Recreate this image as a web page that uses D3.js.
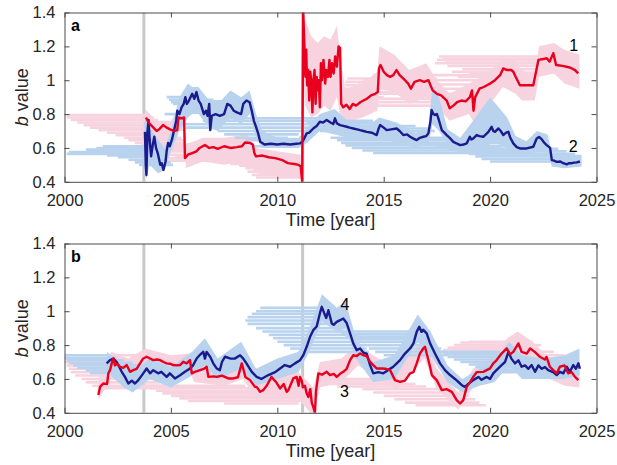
<!DOCTYPE html>
<html>
<head>
<meta charset="utf-8">
<script src="https://cdn.jsdelivr.net/npm/d3@7"></script>
<style>
body { margin: 0; background: #fff; }
text { font-family: "Liberation Sans", Arial, Helvetica, sans-serif; }
</style>
</head>
<body>
<div id="chart"></div>
<script>
// ---- data ----
const xTicks = [2000, 2005, 2010, 2015, 2020, 2025];
const yTicks = [0.4, 0.6, 0.8, 1, 1.2, 1.4];
const quakes = [2003.73, 2011.19];

// series 1 (panel a, red): [year, b]
const series1 = [[2003.83,0.78],[2003.95,0.75],[2004.1,0.73],[2004.33,0.70],[2004.45,0.71],[2004.63,0.735],[2004.8,0.72],[2004.96,0.71],[2005.15,0.70],[2005.3,0.705],[2005.35,0.78],[2005.5,0.775],[2005.62,0.78],[2005.66,0.54],[2005.8,0.56],[2006.0,0.57],[2006.2,0.58],[2006.35,0.60],[2006.6,0.617],[2006.8,0.60],[2007.0,0.605],[2007.2,0.595],[2007.5,0.61],[2007.8,0.60],[2008.1,0.605],[2008.34,0.61],[2008.48,0.632],[2008.7,0.63],[2008.85,0.62],[2008.92,0.57],[2009.0,0.55],[2009.3,0.555],[2009.6,0.545],[2009.9,0.54],[2010.2,0.53],[2010.5,0.51],[2010.8,0.505],[2011.0,0.50],[2011.1,0.49],[2011.17,0.40],[2011.22,1.40],[2011.27,1.22],[2011.32,1.02],[2011.36,1.18],[2011.4,0.97],[2011.45,1.06],[2011.5,0.88],[2011.55,1.05],[2011.6,0.99],[2011.65,0.81],[2011.7,1.0],[2011.75,1.06],[2011.8,0.86],[2011.85,1.02],[2011.9,0.94],[2011.95,1.0],[2012.0,0.84],[2012.05,1.1],[2012.1,1.0],[2012.17,1.12],[2012.25,0.98],[2012.3,1.06],[2012.38,1.02],[2012.45,1.12],[2012.5,1.02],[2012.57,1.1],[2012.65,1.04],[2012.72,1.14],[2012.8,1.08],[2012.88,1.2],[2012.95,1.19],[2013.0,0.86],[2013.1,0.84],[2013.25,0.855],[2013.4,0.83],[2013.55,0.86],[2013.7,0.85],[2013.9,0.87],[2014.05,0.88],[2014.2,0.89],[2014.4,0.91],[2014.6,0.92],[2014.72,0.93],[2014.78,1.07],[2014.85,1.09],[2015.0,1.05],[2015.15,1.03],[2015.3,1.02],[2015.45,1.03],[2015.6,1.06],[2015.75,1.03],[2016.0,1.0],[2016.15,0.98],[2016.28,0.95],[2016.45,0.99],[2016.7,1.0],[2016.9,0.99],[2017.1,1.0],[2017.3,0.94],[2017.5,0.92],[2017.7,0.91],[2017.96,0.88],[2018.1,0.834],[2018.27,0.85],[2018.45,0.87],[2018.65,0.88],[2018.85,0.875],[2019.05,0.90],[2019.15,0.94],[2019.22,0.82],[2019.3,0.90],[2019.5,0.95],[2019.7,0.96],[2019.85,0.97],[2020.0,0.98],[2020.23,1.0],[2020.47,1.03],[2020.62,1.07],[2020.8,1.06],[2021.0,1.06],[2021.09,1.05],[2021.2,1.02],[2021.4,0.97],[2022.03,0.97],[2022.27,1.12],[2022.5,1.125],[2022.66,1.13],[2022.8,1.11],[2022.97,1.16],[2023.1,1.09],[2023.4,1.085],[2023.75,1.075],[2023.99,1.06],[2024.14,1.04]];
// uncertainty envelope: [year, low, high]
const band1 = [[2003.8,0.68,0.83],[2004.3,0.66,0.76],[2005.0,0.66,0.76],[2005.3,0.70,0.82],[2005.65,0.70,0.82],[2005.7,0.48,0.62],[2006.5,0.52,0.66],[2007.5,0.50,0.66],[2008.6,0.52,0.68],[2009.0,0.45,0.60],[2010.0,0.43,0.58],[2011.1,0.42,0.56],[2011.2,0.40,0.55],[2011.25,1.0,1.4],[2011.3,0.85,1.36],[2011.6,0.78,1.26],[2011.9,0.80,1.22],[2012.2,0.85,1.26],[2012.5,0.82,1.24],[2012.8,0.90,1.32],[2013.0,0.76,1.1],[2013.2,0.75,0.95],[2014.0,0.78,0.98],[2014.7,0.82,1.05],[2014.8,0.95,1.2],[2015.5,0.93,1.15],[2016.2,0.86,1.06],[2017.0,0.90,1.1],[2017.5,0.84,1.0],[2018.1,0.76,0.92],[2019.0,0.80,0.98],[2019.3,0.74,1.0],[2020.0,0.86,1.06],[2020.6,0.96,1.12],[2021.2,0.92,1.12],[2021.5,0.88,1.05],[2022.1,0.88,1.04],[2022.3,1.02,1.2],[2023.0,1.04,1.22],[2023.5,0.98,1.18],[2024.2,0.95,1.15]];
// time windows: [from, to, b]
const bars1 = [[2000.1,2004.0,0.795],[2000.1,2004.2,0.78],[2000.3,2004.4,0.765],[2000.6,2004.6,0.75],[2000.9,2004.8,0.735],[2001.2,2004.9,0.72],[2001.6,2005.0,0.705],[2002.0,2005.1,0.69],[2002.4,2005.3,0.675],[2002.8,2005.5,0.66],[2003.0,2005.6,0.645],[2003.3,2005.6,0.63],[2003.6,2005.6,0.615],[2003.8,2006.0,0.56],[2003.9,2006.5,0.58],[2004.1,2007.0,0.595],[2004.3,2007.5,0.61],[2004.5,2008.0,0.6],[2004.8,2008.6,0.62],[2005.2,2008.9,0.545],[2004.0,2006.3,0.54],[2004.4,2006.8,0.525],[2006.3,2009.2,0.55],[2006.6,2009.5,0.54],[2007.0,2009.9,0.53],[2007.4,2010.2,0.515],[2007.8,2010.5,0.505],[2008.2,2010.8,0.495],[2008.5,2011.0,0.48],[2008.6,2011.1,0.46],[2008.8,2011.15,0.44],[2009.0,2011.18,0.425],[2013.0,2014.5,0.87],[2013.0,2015.0,0.9],[2013.1,2015.5,0.93],[2013.1,2016.0,0.95],[2013.2,2016.6,0.97],[2013.2,2017.0,0.99],[2013.3,2017.5,1.01],[2013.2,2018.0,0.85],[2013.3,2018.5,0.87],[2013.4,2019.0,0.89],[2013.5,2019.5,0.92],[2013.6,2020.0,0.95],[2013.8,2020.5,0.975],[2014.0,2020.8,1.0],[2014.5,2021.0,1.03],[2017.4,2022.4,1.1],[2017.5,2022.8,1.12],[2017.6,2023.2,1.14],[2017.8,2023.6,1.125],[2017.9,2024.0,1.105],[2018.0,2024.2,1.085],[2018.2,2021.6,1.05],[2018.5,2022.2,1.02],[2018.7,2024.2,1.065],[2019.0,2024.2,1.045]];

// series 2 (panel a, blue)
const series2 = [[2003.78,0.695],[2003.82,0.50],[2003.85,0.44],[2003.9,0.70],[2003.95,0.765],[2004.0,0.65],[2004.07,0.55],[2004.15,0.62],[2004.22,0.666],[2004.3,0.60],[2004.38,0.57],[2004.5,0.50],[2004.57,0.51],[2004.65,0.47],[2004.75,0.52],[2004.8,0.58],[2004.87,0.63],[2004.95,0.61],[2005.05,0.65],[2005.15,0.705],[2005.25,0.76],[2005.3,0.82],[2005.4,0.80],[2005.5,0.84],[2005.6,0.86],[2005.68,0.90],[2005.75,0.86],[2005.85,0.88],[2006.0,0.92],[2006.1,0.89],[2006.2,0.93],[2006.3,0.88],[2006.4,0.86],[2006.55,0.80],[2006.65,0.82],[2006.72,0.79],[2006.8,0.86],[2006.85,0.705],[2006.92,0.79],[2007.1,0.80],[2007.3,0.79],[2007.5,0.80],[2007.65,0.86],[2007.8,0.85],[2007.95,0.82],[2008.1,0.81],[2008.3,0.80],[2008.4,0.86],[2008.55,0.88],[2008.7,0.87],[2008.8,0.82],[2008.9,0.76],[2009.0,0.725],[2009.1,0.686],[2009.2,0.636],[2009.4,0.62],[2009.7,0.625],[2010.0,0.62],[2010.3,0.625],[2010.6,0.62],[2010.9,0.625],[2011.07,0.627],[2011.2,0.64],[2011.38,0.686],[2011.5,0.69],[2011.69,0.715],[2011.85,0.73],[2012.0,0.755],[2012.15,0.75],[2012.32,0.765],[2012.5,0.75],[2012.63,0.741],[2012.71,0.775],[2012.8,0.745],[2012.95,0.735],[2013.1,0.73],[2013.26,0.725],[2013.4,0.72],[2013.57,0.715],[2013.75,0.71],[2013.89,0.705],[2014.05,0.70],[2014.2,0.695],[2014.45,0.69],[2014.67,0.676],[2014.75,0.71],[2014.83,0.735],[2015.0,0.72],[2015.14,0.705],[2015.35,0.71],[2015.61,0.715],[2015.75,0.70],[2015.92,0.676],[2016.1,0.68],[2016.24,0.666],[2016.4,0.655],[2016.55,0.646],[2016.7,0.66],[2016.86,0.666],[2017.0,0.67],[2017.1,0.686],[2017.2,0.76],[2017.25,0.824],[2017.33,0.80],[2017.41,0.795],[2017.5,0.80],[2017.57,0.775],[2017.65,0.74],[2017.73,0.705],[2017.85,0.69],[2017.96,0.676],[2018.1,0.66],[2018.27,0.636],[2018.45,0.625],[2018.59,0.617],[2018.75,0.62],[2018.9,0.627],[2019.05,0.666],[2019.12,0.65],[2019.2,0.655],[2019.37,0.676],[2019.5,0.67],[2019.68,0.666],[2019.8,0.68],[2019.92,0.695],[2020.07,0.725],[2020.15,0.70],[2020.23,0.695],[2020.39,0.715],[2020.5,0.70],[2020.62,0.676],[2020.75,0.69],[2020.86,0.695],[2020.95,0.66],[2021.09,0.627],[2021.25,0.605],[2021.4,0.597],[2021.72,0.597],[2022.03,0.607],[2022.19,0.656],[2022.3,0.665],[2022.43,0.65],[2022.55,0.63],[2022.66,0.617],[2022.82,0.60],[2022.9,0.528],[2023.0,0.525],[2023.13,0.518],[2023.3,0.52],[2023.44,0.51],[2023.6,0.503],[2023.7,0.51],[2023.83,0.51],[2023.95,0.513],[2024.07,0.515],[2024.22,0.52]];
const band2 = [[2003.75,0.45,0.75],[2003.85,0.42,0.78],[2004.0,0.5,0.72],[2004.4,0.45,0.65],[2004.7,0.47,0.6],[2005.0,0.58,0.7],[2005.4,0.7,0.9],[2005.8,0.78,0.98],[2006.0,0.8,0.96],[2006.3,0.8,0.96],[2006.8,0.72,0.88],[2007.2,0.7,0.86],[2007.8,0.78,0.94],[2008.3,0.74,0.9],[2008.7,0.8,0.94],[2009.0,0.66,0.8],[2009.3,0.6,0.7],[2010.0,0.6,0.66],[2011.0,0.6,0.66],[2011.4,0.63,0.72],[2012.0,0.7,0.8],[2012.7,0.68,0.83],[2013.3,0.66,0.76],[2014.2,0.64,0.73],[2014.8,0.66,0.78],[2015.6,0.63,0.75],[2016.5,0.6,0.69],[2017.1,0.62,0.72],[2017.3,0.74,0.97],[2017.6,0.7,0.9],[2018.0,0.62,0.71],[2018.6,0.57,0.66],[2019.2,0.58,0.76],[2019.6,0.6,0.83],[2020.0,0.62,0.9],[2020.4,0.62,0.84],[2020.8,0.6,0.78],[2021.2,0.57,0.67],[2021.7,0.55,0.64],[2022.2,0.58,0.7],[2022.7,0.57,0.68],[2022.9,0.49,0.57],[2023.5,0.48,0.56],[2024.3,0.49,0.56]];
const bars2 = [[2000.1,2004.0,0.565],[2000.2,2004.1,0.575],[2001.0,2004.2,0.59],[2001.5,2004.3,0.6],[2001.8,2004.4,0.61],[2002.0,2004.5,0.555],[2002.5,2004.6,0.545],[2003.0,2004.8,0.53],[2003.3,2005.0,0.515],[2003.5,2005.1,0.5],[2004.8,2006.4,0.9],[2004.9,2007.0,0.885],[2005.0,2007.6,0.87],[2005.1,2008.2,0.86],[2005.2,2008.7,0.875],[2005.3,2008.8,0.845],[2005.4,2006.8,0.83],[2004.7,2005.8,0.8],[2005.5,2011.5,0.74],[2005.7,2011.8,0.72],[2006.5,2012.0,0.76],[2007.0,2012.3,0.775],[2007.2,2011.3,0.7],[2007.5,2011.0,0.68],[2008.0,2010.5,0.66],[2008.5,2011.2,0.645],[2008.8,2010.0,0.61],[2011.3,2014.5,0.76],[2011.4,2015.5,0.745],[2011.6,2016.5,0.73],[2011.8,2017.2,0.715],[2012.0,2017.4,0.7],[2012.5,2018.0,0.66],[2012.8,2018.5,0.645],[2013.0,2019.0,0.63],[2013.2,2019.8,0.615],[2013.5,2020.5,0.6],[2014.0,2021.0,0.585],[2014.5,2021.5,0.57],[2017.5,2022.8,0.61],[2018.0,2023.2,0.595],[2018.5,2023.6,0.58],[2019.0,2024.0,0.565],[2019.3,2024.2,0.55],[2019.6,2024.2,0.535],[2020.0,2024.2,0.52]];

// series 3 (panel b, red)
const series3 = [[2001.59,0.505],[2001.67,0.553],[2001.82,0.573],[2002.0,0.57],[2002.06,0.633],[2002.14,0.652],[2002.22,0.692],[2002.3,0.721],[2002.37,0.68],[2002.45,0.69],[2002.61,0.672],[2002.76,0.665],[2002.92,0.682],[2003.08,0.642],[2003.23,0.652],[2003.39,0.66],[2003.55,0.692],[2003.7,0.721],[2003.86,0.731],[2004.02,0.721],[2004.17,0.711],[2004.35,0.715],[2004.49,0.711],[2004.65,0.70],[2004.8,0.692],[2004.95,0.69],[2005.11,0.682],[2005.27,0.68],[2005.43,0.682],[2005.58,0.701],[2005.74,0.692],[2005.9,0.711],[2005.98,0.633],[2006.13,0.642],[2006.37,0.652],[2006.55,0.66],[2006.68,0.672],[2006.76,0.612],[2007.0,0.615],[2007.15,0.612],[2007.4,0.62],[2007.7,0.603],[2007.93,0.603],[2008.15,0.61],[2008.33,0.692],[2008.4,0.66],[2008.5,0.612],[2008.72,0.593],[2008.95,0.553],[2009.03,0.553],[2009.19,0.524],[2009.34,0.534],[2009.5,0.56],[2009.73,0.612],[2009.81,0.60],[2009.95,0.58],[2010.13,0.544],[2010.3,0.57],[2010.44,0.524],[2010.52,0.534],[2010.75,0.603],[2010.91,0.612],[2011.0,0.56],[2011.07,0.612],[2011.15,0.59],[2011.2,0.55],[2011.3,0.56],[2011.38,0.514],[2011.46,0.494],[2011.55,0.54],[2011.62,0.46],[2011.69,0.435],[2011.77,0.40],[2011.82,0.53],[2011.93,0.633],[2012.1,0.625],[2012.32,0.642],[2012.48,0.623],[2012.65,0.63],[2012.79,0.612],[2012.95,0.63],[2013.1,0.642],[2013.26,0.66],[2013.42,0.711],[2013.57,0.74],[2013.73,0.735],[2013.89,0.75],[2014.05,0.74],[2014.2,0.735],[2014.36,0.701],[2014.51,0.682],[2014.67,0.662],[2014.9,0.662],[2015.1,0.66],[2015.3,0.652],[2015.53,0.593],[2015.77,0.583],[2016.0,0.59],[2016.24,0.633],[2016.4,0.64],[2016.55,0.692],[2016.7,0.75],[2016.86,0.78],[2016.94,0.79],[2017.02,0.75],[2017.18,0.672],[2017.26,0.623],[2017.49,0.593],[2017.73,0.534],[2017.95,0.54],[2018.2,0.524],[2018.43,0.475],[2018.59,0.455],[2018.74,0.475],[2018.9,0.553],[2019.05,0.58],[2019.21,0.612],[2019.37,0.64],[2019.68,0.642],[2020.0,0.662],[2020.15,0.692],[2020.3,0.71],[2020.54,0.75],[2020.78,0.78],[2020.94,0.745],[2021.09,0.76],[2021.33,0.81],[2021.48,0.76],[2021.72,0.75],[2021.88,0.78],[2022.1,0.76],[2022.34,0.731],[2022.57,0.715],[2022.65,0.73],[2022.81,0.672],[2022.97,0.652],[2023.13,0.633],[2023.28,0.672],[2023.5,0.68],[2023.67,0.633],[2023.83,0.64],[2023.99,0.612],[2024.15,0.593]];
const band3 = [[2001.6,0.48,0.6],[2002.2,0.6,0.76],[2003.0,0.6,0.72],[2003.8,0.66,0.78],[2005.0,0.64,0.74],[2005.9,0.64,0.75],[2006.1,0.58,0.68],[2007.5,0.56,0.66],[2008.4,0.6,0.7],[2009.0,0.48,0.6],[2010.0,0.48,0.64],[2011.0,0.48,0.64],[2011.7,0.38,0.55],[2012.0,0.55,0.7],[2013.0,0.58,0.72],[2013.8,0.68,0.8],[2014.5,0.62,0.74],[2015.6,0.54,0.66],[2016.9,0.72,0.84],[2017.5,0.54,0.66],[2018.5,0.42,0.52],[2019.2,0.55,0.66],[2020.0,0.6,0.72],[2020.8,0.7,0.84],[2021.3,0.72,0.88],[2022.0,0.7,0.82],[2022.8,0.6,0.72],[2023.5,0.56,0.68],[2024.2,0.55,0.65]];
const bars3 = [[2000.0,2002.2,0.72],[2000.0,2002.5,0.70],[2000.1,2002.8,0.68],[2000.2,2003.2,0.66],[2000.3,2003.6,0.64],[2000.5,2003.9,0.62],[2000.8,2004.2,0.6],[2001.0,2004.5,0.58],[2001.3,2004.8,0.56],[2001.6,2005.0,0.545],[2002.0,2003.8,0.74],[2003.8,2008.5,0.56],[2004.0,2009.0,0.545],[2004.3,2009.5,0.53],[2004.6,2010.0,0.515],[2005.0,2010.5,0.5],[2005.4,2011.0,0.485],[2005.8,2011.2,0.47],[2007.5,2011.0,0.455],[2011.8,2015.5,0.6],[2012.0,2016.0,0.585],[2012.3,2016.5,0.57],[2012.8,2017.0,0.555],[2014.0,2018.0,0.54],[2014.5,2018.5,0.52],[2015.0,2019.0,0.5],[2015.5,2019.3,0.48],[2016.0,2019.5,0.46],[2016.5,2019.8,0.445],[2017.8,2020.5,0.77],[2018.0,2020.8,0.785],[2018.3,2021.2,0.8],[2018.6,2021.6,0.815],[2019.0,2022.0,0.82],[2019.5,2022.4,0.8],[2020.0,2023.0,0.76],[2020.5,2023.5,0.74],[2021.0,2024.0,0.72],[2018.3,2020.2,0.74]];

// series 4 (panel b, blue)
const series4 = [[2001.98,0.692],[2002.14,0.711],[2002.3,0.72],[2002.45,0.70],[2002.53,0.682],[2002.69,0.642],[2002.84,0.612],[2003.0,0.573],[2003.16,0.59],[2003.31,0.573],[2003.47,0.593],[2003.7,0.633],[2003.86,0.662],[2004.02,0.633],[2004.17,0.652],[2004.4,0.633],[2004.55,0.642],[2004.8,0.612],[2004.95,0.633],[2005.19,0.603],[2005.43,0.622],[2005.66,0.642],[2005.9,0.662],[2006.05,0.682],[2006.21,0.721],[2006.35,0.74],[2006.52,0.76],[2006.6,0.72],[2006.68,0.76],[2006.85,0.73],[2006.99,0.692],[2007.15,0.662],[2007.3,0.652],[2007.4,0.70],[2007.54,0.731],[2007.78,0.721],[2008.0,0.72],[2008.25,0.74],[2008.4,0.72],[2008.55,0.692],[2008.8,0.642],[2009.03,0.612],[2009.25,0.60],[2009.58,0.623],[2009.9,0.64],[2010.13,0.662],[2010.35,0.682],[2010.6,0.672],[2010.83,0.692],[2011.07,0.711],[2011.22,0.74],[2011.38,0.79],[2011.54,0.849],[2011.69,0.888],[2011.85,0.91],[2012.0,0.987],[2012.09,1.026],[2012.2,0.99],[2012.3,0.96],[2012.4,1.006],[2012.56,0.928],[2012.65,0.92],[2012.79,0.937],[2012.95,0.947],[2013.1,0.957],[2013.26,0.93],[2013.42,0.869],[2013.57,0.81],[2013.73,0.77],[2013.89,0.78],[2014.05,0.755],[2014.2,0.75],[2014.36,0.682],[2014.51,0.633],[2014.75,0.64],[2014.98,0.633],[2015.2,0.652],[2015.45,0.672],[2015.6,0.69],[2015.77,0.711],[2016.0,0.75],[2016.24,0.78],[2016.4,0.81],[2016.55,0.878],[2016.67,0.908],[2016.78,0.878],[2016.86,0.89],[2017.02,0.869],[2017.18,0.81],[2017.41,0.75],[2017.65,0.692],[2017.88,0.652],[2018.12,0.623],[2018.35,0.60],[2018.59,0.573],[2018.7,0.56],[2018.82,0.553],[2019.0,0.573],[2019.21,0.593],[2019.45,0.612],[2019.6,0.595],[2019.84,0.612],[2020.0,0.60],[2020.15,0.633],[2020.3,0.652],[2020.54,0.682],[2020.7,0.70],[2020.86,0.76],[2021.0,0.72],[2021.17,0.692],[2021.33,0.71],[2021.48,0.672],[2021.64,0.68],[2021.8,0.66],[2021.95,0.682],[2022.11,0.642],[2022.27,0.68],[2022.43,0.66],[2022.58,0.67],[2022.73,0.652],[2022.96,0.64],[2023.13,0.623],[2023.28,0.642],[2023.44,0.633],[2023.6,0.672],[2023.75,0.642],[2023.91,0.682],[2024.03,0.66],[2024.15,0.692],[2024.22,0.66]];
const band4 = [[2002.0,0.64,0.76],[2002.8,0.55,0.68],[2003.2,0.52,0.64],[2004.0,0.6,0.72],[2005.0,0.55,0.67],[2006.0,0.62,0.76],[2006.6,0.68,0.84],[2007.2,0.6,0.72],[2008.3,0.66,0.82],[2009.0,0.56,0.66],[2010.0,0.6,0.72],[2011.0,0.64,0.76],[2011.5,0.76,0.9],[2012.1,0.94,1.1],[2012.8,0.88,1.02],[2013.2,0.9,1.06],[2013.7,0.72,0.84],[2014.5,0.58,0.7],[2015.5,0.6,0.74],[2016.6,0.82,0.98],[2017.2,0.74,0.88],[2018.0,0.58,0.68],[2018.7,0.52,0.6],[2019.5,0.56,0.66],[2020.2,0.58,0.7],[2020.9,0.68,0.82],[2021.5,0.6,0.74],[2022.5,0.6,0.72],[2023.5,0.6,0.74],[2024.2,0.62,0.78]];
const bars4 = [[2000.0,2002.0,0.74],[2000.0,2002.4,0.725],[2000.1,2002.8,0.71],[2000.2,2003.2,0.695],[2000.4,2003.6,0.68],[2000.6,2004.0,0.665],[2001.0,2004.4,0.65],[2001.2,2003.0,0.635],[2009.2,2012.0,1.02],[2009.0,2012.3,1.0],[2008.8,2012.6,0.985],[2008.6,2013.0,0.965],[2008.5,2013.3,0.945],[2008.6,2013.5,0.925],[2009.0,2013.2,0.9],[2009.3,2013.6,0.88],[2009.6,2013.8,0.86],[2009.8,2013.9,0.84],[2010.0,2014.0,0.82],[2010.3,2014.1,0.8],[2010.6,2014.2,0.78],[2011.0,2014.3,0.76],[2012.8,2016.5,0.88],[2013.0,2016.8,0.865],[2013.2,2017.0,0.85],[2013.5,2017.2,0.835],[2013.8,2017.4,0.82],[2014.0,2017.5,0.80],[2014.3,2017.7,0.78],[2014.6,2017.9,0.76],[2015.0,2018.0,0.74],[2017.5,2020.5,0.76],[2017.8,2020.9,0.745],[2018.0,2021.3,0.73],[2018.3,2021.8,0.715],[2018.6,2022.3,0.7],[2019.0,2023.0,0.685],[2019.3,2023.5,0.67],[2019.6,2024.0,0.655],[2020.0,2024.2,0.64]];

// annotations: [panel, text, year, b]
const seriesLabels = [[0,"1",2023.93,1.174],[0,"2",2023.9,0.577],[1,"4",2013.18,1.006],[1,"3",2013.16,0.494]];
const panelLetters = ["a", "b"];

// ---- drawing ----
const W = 617, H = 465;
const left = 64.5, plotW = 532, plotH = 169.3;
const panelTops = [12.5, 243.5];

const pink = "#f7d3df", lightBlue = "#b9d3ef", red = "#e8001e", navy = "#1b1b8e";

const svg = d3.select("#chart").append("svg")
  .attr("width", W).attr("height", H);

const x = d3.scaleLinear().domain([2000, 2025]).range([0, plotW]);
const y = d3.scaleLinear().domain([0.4, 1.4]).range([plotH, 0]);

const line = d3.line().x(d => x(d[0])).y(d => y(d[1]));
const area = d3.area().x(d => x(d[0])).y0(d => y(d[1])).y1(d => y(d[2]));

const panels = [
  {red: series1, redBand: band1, redBars: bars1, blue: series2, blueBand: band2, blueBars: bars2},
  {red: series3, redBand: band3, redBars: bars3, blue: series4, blueBand: band4, blueBars: bars4}
];

panels.forEach((p, i) => {
  const g = svg.append("g").attr("transform", `translate(${left},${panelTops[i]})`);

  g.append("clipPath").attr("id", "clip" + i)
    .append("rect").attr("width", plotW).attr("height", plotH);
  const plot = g.append("g").attr("clip-path", `url(#clip${i})`);

  plot.selectAll(".quake").data(quakes).enter().append("line")
    .attr("x1", d => x(d)).attr("x2", d => x(d))
    .attr("y1", 0).attr("y2", plotH)
    .attr("stroke", "#c9c9c9").attr("stroke-width", 3);

  function drawSpread(bars, band, col) {
    plot.append("g").selectAll("line").data(bars).enter().append("line")
      .attr("x1", d => x(d[0])).attr("x2", d => x(d[1]))
      .attr("y1", d => y(d[2])).attr("y2", d => y(d[2]))
      .attr("stroke", col).attr("stroke-width", 2.6);
    plot.append("path").datum(band)
      .attr("d", area).attr("fill", col);
  }
  drawSpread(p.redBars, p.redBand, pink);
  drawSpread(p.blueBars, p.blueBand, lightBlue);

  plot.append("path").datum(p.blue).attr("d", line)
    .attr("fill", "none").attr("stroke", navy).attr("stroke-width", 2.4)
    .attr("stroke-linejoin", "round");
  plot.append("path").datum(p.red).attr("d", line)
    .attr("fill", "none").attr("stroke", red).attr("stroke-width", 2.4)
    .attr("stroke-linejoin", "round");

  // axes (box with inward ticks)
  const axCol = "#4a4a4a";
  const gx = g.append("g").attr("transform", `translate(0,${plotH})`)
    .call(d3.axisBottom(x).tickValues(xTicks).tickFormat(d3.format("d"))
      .tickSizeInner(-5).tickSizeOuter(0).tickPadding(12.6));
  const gy = g.append("g")
    .call(d3.axisLeft(y).tickValues(yTicks).tickFormat(d => +d.toFixed(1))
      .tickSizeInner(-5).tickSizeOuter(0).tickPadding(9));
  const gt = g.append("g")
    .call(d3.axisTop(x).tickValues(xTicks).tickFormat("").tickSizeInner(-5).tickSizeOuter(0));
  const gr = g.append("g").attr("transform", `translate(${plotW},0)`)
    .call(d3.axisRight(y).tickValues(yTicks).tickFormat("").tickSizeInner(-5).tickSizeOuter(0));
  [gx, gy, gt, gr].forEach(a => {
    a.select(".domain").attr("stroke", axCol);
    a.selectAll(".tick line").attr("stroke", axCol);
    a.selectAll("text").attr("fill", "#262626")
      .style("font-size", "16.5px").style("font-family", '"Liberation Sans", Arial, sans-serif');
  });

  g.append("text")
    .attr("x", plotW / 2).attr("y", plotH + 44)
    .attr("text-anchor", "middle").attr("fill", "#262626")
    .style("font-size", "18px")
    .text("Time [year]");

  const yl = g.append("text")
    .attr("transform", `translate(${-37},${plotH / 2}) rotate(-90)`)
    .attr("text-anchor", "middle").attr("fill", "#262626")
    .style("font-size", "18px");
  yl.append("tspan").style("font-style", "italic").text("b");
  yl.append("tspan").text(" value");

  g.append("text")
    .attr("x", 6.5).attr("y", 18)
    .attr("fill", "#000").style("font-size", "16px").style("font-weight", "bold")
    .text(panelLetters[i]);

  g.selectAll(".slab").data(seriesLabels.filter(d => d[0] === i)).enter().append("text")
    .attr("x", d => x(d[2])).attr("y", d => y(d[3]))
    .attr("text-anchor", "middle").attr("fill", "#000")
    .style("font-size", "16px")
    .text(d => d[1]);
});
</script>
</body>
</html>
